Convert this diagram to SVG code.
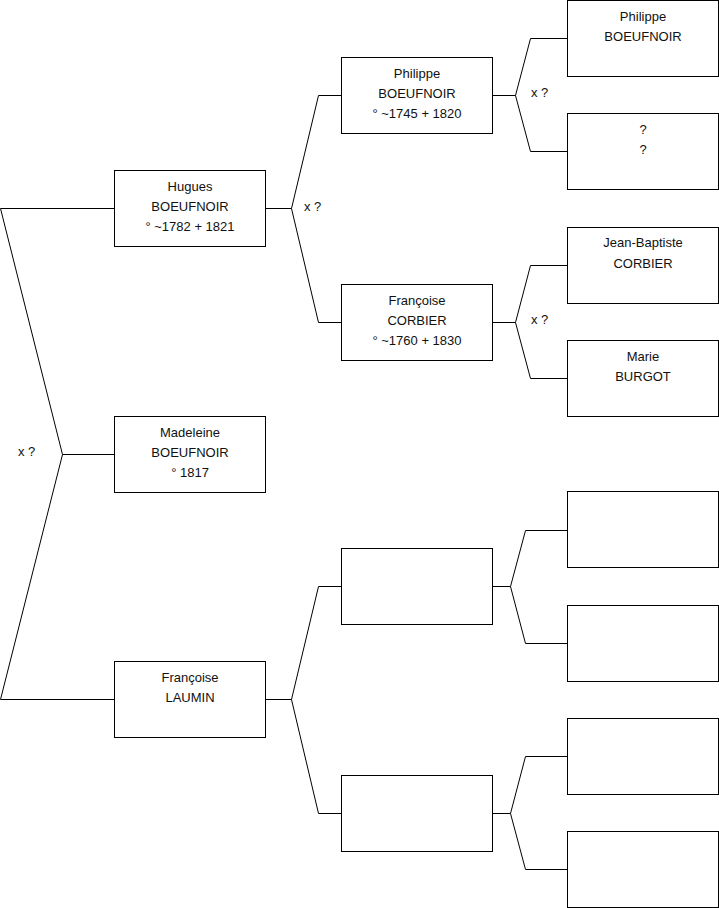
<svg xmlns="http://www.w3.org/2000/svg" width="719" height="908" viewBox="0 0 719 908">
<style>
.box{fill:#fff;stroke:#000;stroke-width:1}
.c{fill:none;stroke:#000;stroke-width:1}
text{font-family:"Liberation Sans",Arial,sans-serif;font-size:13px;fill:#111}
.m{text-anchor:middle}
</style>
<rect width="719" height="908" fill="#fff"/>
<g id="connectors">
<path class="c" d="M114.5,208.5H0.5L62.5,454.5L0.5,699.5H114.5M62.5,454.5H114.5"/>
<path class="c" d="M265.5,208.5H291.5M341.5,95.5H318.5L291.5,208.5L318.5,322.5H341.5"/>
<path class="c" d="M265.5,699.5H291.5M341.5,586.5H318.5L291.5,699.5L318.5,813.5H341.5"/>
<path class="c" d="M492.5,95.5H515.5M567.5,38.5H530.5L515.5,95.5L530.5,151.5H567.5"/>
<path class="c" d="M492.5,322.5H515.5M567.5,265.5H530.5L515.5,322.5L530.5,378.5H567.5"/>
<path class="c" d="M492.5,586.5H510.5M567.5,530.5H525.5L510.5,586.5L525.5,643.5H567.5"/>
<path class="c" d="M492.5,813.5H510.5M567.5,756.5H525.5L510.5,813.5L525.5,869.5H567.5"/>
<text x="18" y="456">x ?</text>
<text x="304" y="211">x ?</text>
<text x="531" y="97">x ?</text>
<text x="531" y="324">x ?</text>
</g>
<g id="hugues"><rect class="box" x="114.5" y="170.5" width="151" height="76"/>
<text class="m" x="190" y="191">Hugues</text><text class="m" x="190" y="211">BOEUFNOIR</text><text class="m" x="190" y="231">° ~1782 + 1821</text></g>
<g id="madeleine"><rect class="box" x="114.5" y="416.5" width="151" height="76"/>
<text class="m" x="190" y="437">Madeleine</text><text class="m" x="190" y="457">BOEUFNOIR</text><text class="m" x="190" y="477">° 1817</text></g>
<g id="francoise-laumin"><rect class="box" x="114.5" y="661.5" width="151" height="76"/>
<text class="m" x="190" y="682">Françoise</text><text class="m" x="190" y="702">LAUMIN</text></g>
<g id="philippe1"><rect class="box" x="341.5" y="57.5" width="151" height="76"/>
<text class="m" x="417" y="78">Philippe</text><text class="m" x="417" y="98">BOEUFNOIR</text><text class="m" x="417" y="118">° ~1745 + 1820</text></g>
<g id="francoise-corbier"><rect class="box" x="341.5" y="284.5" width="151" height="76"/>
<text class="m" x="417" y="305">Françoise</text><text class="m" x="417" y="325">CORBIER</text><text class="m" x="417" y="345">° ~1760 + 1830</text></g>
<g id="empty-m1"><rect class="box" x="341.5" y="548.5" width="151" height="76"/></g>
<g id="empty-m2"><rect class="box" x="341.5" y="775.5" width="151" height="76"/></g>
<g id="philippe2"><rect class="box" x="567.5" y="0.5" width="151" height="76"/>
<text class="m" x="643" y="21">Philippe</text><text class="m" x="643" y="41">BOEUFNOIR</text></g>
<g id="unknown"><rect class="box" x="567.5" y="113.5" width="151" height="76"/>
<text class="m" x="643" y="134">?</text><text class="m" x="643" y="154">?</text></g>
<g id="jean-baptiste"><rect class="box" x="567.5" y="227.5" width="151" height="76"/>
<text class="m" x="643" y="247">Jean-Baptiste</text><text class="m" x="643" y="268">CORBIER</text></g>
<g id="marie"><rect class="box" x="567.5" y="340.5" width="151" height="76"/>
<text class="m" x="643" y="361">Marie</text><text class="m" x="643" y="381">BURGOT</text></g>
<g id="empty-r1"><rect class="box" x="567.5" y="491.5" width="151" height="76"/></g>
<g id="empty-r2"><rect class="box" x="567.5" y="605.5" width="151" height="76"/></g>
<g id="empty-r3"><rect class="box" x="567.5" y="718.5" width="151" height="76"/></g>
<g id="empty-r4"><rect class="box" x="567.5" y="831.5" width="151" height="76"/></g>
</svg>
